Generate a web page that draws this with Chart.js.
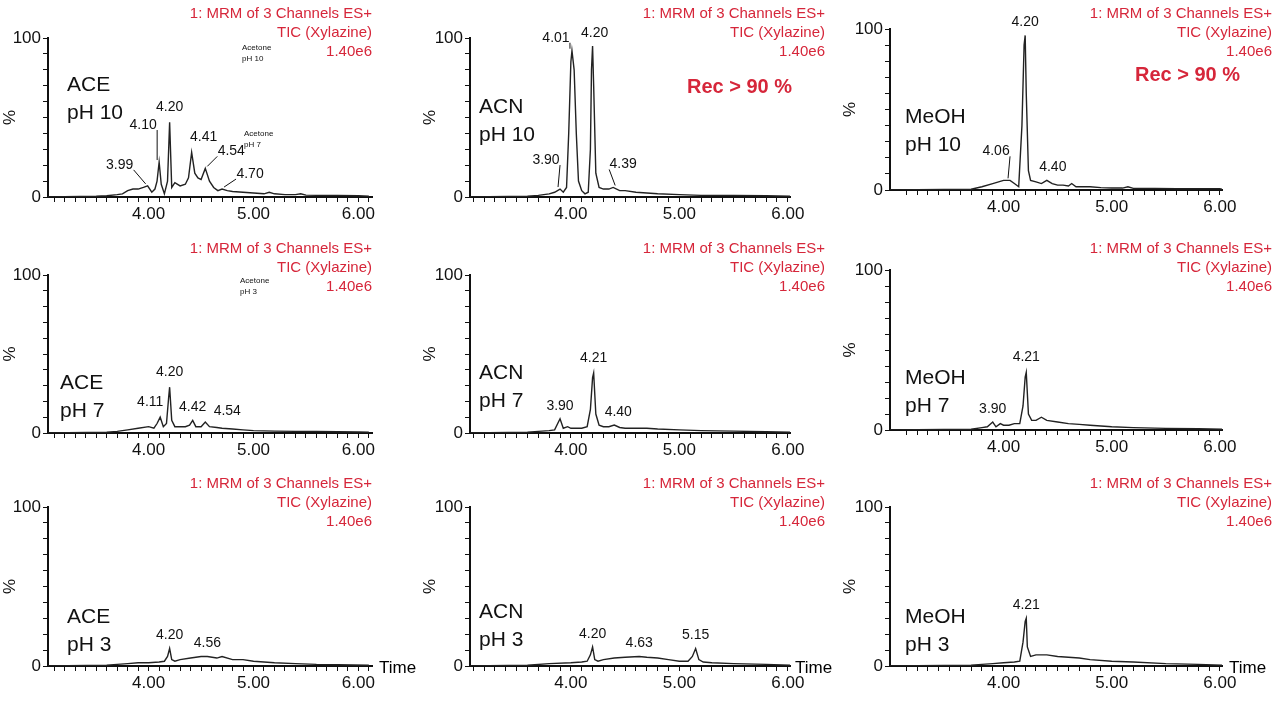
<!DOCTYPE html>
<html><head><meta charset="utf-8">
<script src="https://cdn.jsdelivr.net/npm/chart.js@4/dist/chart.umd.min.js"></script>
<style>
body{margin:0;width:1280px;height:705px;background:#fff;position:relative;overflow:hidden;font-family:"Liberation Sans",Arial,sans-serif}
canvas{position:absolute}
.t{position:absolute;white-space:nowrap;line-height:1}
.h{color:#d6263a;font-size:15px;text-align:right;line-height:19px}
.s{font-size:21px;line-height:28px;color:#111}
.rec{color:#d6263a;font-size:20px;font-weight:bold}
.ac{font-size:8px;line-height:11px;color:#111}
</style></head><body>
<script>
// ---- data ----
const tA10=[3.0,3.5,3.6,3.7,3.75,3.8,3.85,3.9,3.95,3.99,4.03,4.06,4.08,4.10,4.12,4.15,4.18,4.20,4.22,4.25,4.3,4.35,4.38,4.41,4.44,4.47,4.5,4.54,4.58,4.62,4.66,4.70,4.75,4.8,4.9,5.0,5.1,5.15,5.2,5.3,5.4,5.45,5.5,5.6,5.8,6.0,6.1];
const yA10=[0,0.5,0.8,1.5,2,4,5,5,6,7,3,5,10,22,8,2,10,47,6,9,7,8,12,28,15,12,11,18,10,6,4,5,4,3.5,3,2.5,2,3,2,1.5,1.5,2,1.2,1,1,0.8,0.5];
const tN10=[3.05,3.6,3.7,3.8,3.85,3.9,3.93,3.96,3.98,4.0,4.01,4.03,4.05,4.07,4.1,4.13,4.16,4.18,4.19,4.20,4.21,4.23,4.26,4.3,4.35,4.39,4.45,4.5,4.6,4.7,4.8,5.0,5.2,5.5,5.8,6.02];
const yN10=[0,0.5,1,2,3,5,3,6,40,85,92,80,40,10,4,2,3,30,80,95,70,15,6,5,5,6,4,4,3,2.5,2,1.5,1,1,0.8,0.5];
const tM10=[2.95,3.7,3.8,3.9,4.0,4.06,4.1,4.14,4.17,4.19,4.20,4.21,4.23,4.25,4.3,4.35,4.40,4.45,4.5,4.55,4.6,4.63,4.67,4.7,4.8,4.9,5.0,5.1,5.15,5.2,5.4,5.6,5.8,6.0,6.02];
const yM10=[0,0.5,2,4,6,6,4,2,40,90,96,60,12,6,5,4,6,4,3,3,2.5,4,2,2,2,1.5,1.2,1.2,2,1,1,0.8,0.8,0.8,0.5];
const tA7=[3.0,3.6,3.7,3.8,3.9,4.0,4.05,4.08,4.11,4.14,4.17,4.19,4.20,4.22,4.25,4.3,4.35,4.39,4.42,4.45,4.5,4.54,4.58,4.65,4.7,4.8,4.9,5.0,5.2,5.4,5.6,5.8,6.0,6.1];
const yA7=[0,0.5,1,2,3,4,3,6,10,4,6,22,29,8,4,4,4,5,8,4,4,7,4,3.5,3,2.5,2,1.5,1.2,1,1,0.8,0.6,0.5];
const tN7=[3.05,3.6,3.7,3.8,3.85,3.9,3.93,3.97,4.0,4.05,4.1,4.15,4.18,4.20,4.21,4.23,4.26,4.3,4.35,4.40,4.45,4.5,4.6,4.7,4.8,5.0,5.2,5.5,5.8,6.02];
const yN7=[0,0.5,1,1.5,2,9,3,4,3,3,3,4,15,35,38,12,5,4,4,5,3.5,3,3,3,2.5,2,1.5,1.2,0.8,0.5];
const tM7=[2.95,3.7,3.8,3.85,3.9,3.93,3.97,4.0,4.05,4.1,4.15,4.18,4.20,4.21,4.23,4.26,4.3,4.35,4.4,4.5,4.6,4.7,4.8,5.0,5.2,5.5,5.8,6.02];
const yM7=[0,0.5,1.5,2,5,2,4,3,3,4,4,15,33,36,10,6,6,8,6,5,4,3.5,3,2,1.5,1,0.8,0.5];
const tA3=[3.0,3.6,3.7,3.8,3.9,4.0,4.1,4.15,4.18,4.20,4.22,4.25,4.3,4.4,4.5,4.56,4.65,4.7,4.8,4.9,5.0,5.2,5.4,5.6,5.8,6.1];
const yA3=[0,0.5,1,1.5,2,2,2.5,3,6,11,4,3,4,5,6,6,5,6,4,4,3,2,1.5,1,0.8,0.5];
const tN3=[3.05,3.6,3.8,4.0,4.1,4.15,4.18,4.20,4.22,4.25,4.3,4.4,4.5,4.63,4.7,4.8,4.9,5.0,5.08,5.12,5.15,5.18,5.22,5.3,5.5,5.8,6.02];
const yN3=[0,0.5,1.5,2,2.5,3,7,12,4,3,4,5,5.5,6,5.5,5,4,3,3,6,11,4,2.5,2,1.5,1,0.5];
const tM3=[2.95,3.7,3.8,3.9,4.0,4.1,4.15,4.18,4.20,4.21,4.22,4.25,4.3,4.4,4.5,4.6,4.7,4.8,5.0,5.2,5.5,5.8,6.02];
const yM3=[0,0.5,1,1.5,2,2.5,3,15,28,30,12,6,7,7,6,5.5,5,4,3,2.5,1.5,1,0.5];
const xTickLabels=[4,5,6];
const yTickLabels=[0,100];
const pkA10=[['3.99',3.99,7],['4.10',4.10,22],['4.20',4.20,47],['4.41',4.41,28],['4.54',4.54,18],['4.70',4.70,5]];
const pkN10=[['3.90',3.90,5],['4.01',4.01,92],['4.20',4.20,95],['4.39',4.39,6]];
const pkM10=[['4.06',4.06,6],['4.20',4.20,96],['4.40',4.40,6]];
const pkA7=[['4.11',4.11,10],['4.20',4.20,29],['4.42',4.42,8],['4.54',4.54,7]];
const pkN7=[['3.90',3.90,9],['4.21',4.21,38],['4.40',4.40,5]];
const pkM7=[['3.90',3.90,5],['4.21',4.21,36]];
const pkA3=[['4.20',4.20,11],['4.56',4.56,6]];
const pkN3=[['4.20',4.20,12],['4.63',4.63,6],['5.15',5.15,11]];
const pkM3=[['4.21',4.21,30]];

// ---- layout (style) ----
const leader={
 'A10':{'3.99':[-28,-14,1],'4.10':[-16,-30,1],'4.20':[0,-8,0],'4.41':[12,-8,0],'4.54':[26,-10,1],'4.70':[28,-8,1]},
 'N10':{'3.90':[-14,-22,1],'4.01':[-16,-6,1],'4.20':[2,-6,0],'4.39':[10,-16,1]},
 'M10':{'4.06':[-14,-22,1],'4.20':[0,-6,0],'4.40':[6,-6,0]},
 'A7':{'4.11':[-10,-8,0],'4.20':[0,-8,0],'4.42':[0,-6,0],'4.54':[22,-4,0]},
 'N7':{'3.90':[0,-6,0],'4.21':[0,-8,0],'4.40':[4,-6,0]},
 'M7':{'3.90':[0,-6,0],'4.21':[0,-8,0]},
 'A3':{'4.20':[0,-6,0],'4.56':[0,-6,0]},
 'N3':{'4.20':[0,-6,0],'4.63':[0,-6,0],'5.15':[0,-6,0]},
 'M3':{'4.21':[0,-6,0]}
};
const L={xmin:3.04,xmax:6.13},M={xmin:3.07,xmax:6.02},R={xmin:2.95,xmax:6.02};
const panels=[
 {k:'A10',t:tA10,y:yA10,pk:pkA10,cx:0,cy:0,w:420,ax0:48,ax1:372,ay0:38,ay1:197,...L},
 {k:'N10',t:tN10,y:yN10,pk:pkN10,cx:420,cy:0,w:420,ax0:470,ax1:790,ay0:38,ay1:197,...M},
 {k:'M10',t:tM10,y:yM10,pk:pkM10,cx:840,cy:0,w:440,ax0:890,ax1:1222,ay0:29,ay1:190,...R},
 {k:'A7',t:tA7,y:yA7,pk:pkA7,cx:0,cy:235,w:420,ax0:48,ax1:372,ay0:275,ay1:433,...L},
 {k:'N7',t:tN7,y:yN7,pk:pkN7,cx:420,cy:235,w:420,ax0:470,ax1:790,ay0:275,ay1:433,...M},
 {k:'M7',t:tM7,y:yM7,pk:pkM7,cx:840,cy:235,w:440,ax0:890,ax1:1222,ay0:270,ay1:430,...R},
 {k:'A3',t:tA3,y:yA3,pk:pkA3,cx:0,cy:470,w:420,ax0:48,ax1:372,ay0:507,ay1:666,...L},
 {k:'N3',t:tN3,y:yN3,pk:pkN3,cx:420,cy:470,w:420,ax0:470,ax1:790,ay0:507,ay1:666,...M},
 {k:'M3',t:tM3,y:yM3,pk:pkM3,cx:840,cy:470,w:440,ax0:890,ax1:1222,ay0:507,ay1:666,...R}
];
const H=235;
const peakPlugin={id:'pk',afterDatasetsDraw(c){
 const p=c.options.plugins.pk.p, ctx=c.ctx, xs=c.scales.x, ys=c.scales.y;
 ctx.save();ctx.font='14px "Liberation Sans",Arial';ctx.fillStyle='#111';ctx.strokeStyle='#111';ctx.lineWidth=1;
 ctx.textAlign='center';ctx.textBaseline='bottom';
 p.pk.forEach(([txt,t,v])=>{
  const px=xs.getPixelForValue(t), py=ys.getPixelForValue(v);
  const o=leader[p.k][txt]||[0,-6,0];
  const lx=px+o[0], ly=py+o[1];
  ctx.fillText(txt,lx,ly);
  if(o[2]){ctx.beginPath();ctx.moveTo(lx+(o[0]<0?14:-14),ly-2);ctx.lineTo(px+(o[0]<0?-2:2),py-2);ctx.stroke();}
 });
 ctx.restore();}};
panels.forEach(p=>{
 const cv=document.createElement('canvas');
 cv.style.left=p.cx+'px';cv.style.top=p.cy+'px';cv.style.width=p.w+'px';cv.style.height=H+'px';
 cv.width=p.w;cv.height=H;document.body.appendChild(cv);
 new Chart(cv,{type:'line',plugins:[peakPlugin],
  data:{datasets:[{data:p.t.map((t,i)=>({x:t,y:p.y[i]})),borderColor:'#222',borderWidth:1.4,pointRadius:0,tension:0}]},
  options:{responsive:false,animation:false,devicePixelRatio:1,
   layout:{padding:{left:0,right:p.cx+p.w-p.ax1,top:p.ay0-p.cy,bottom:0}},
   plugins:{legend:{display:false},tooltip:{enabled:false},pk:{p}},
   scales:{
    x:{type:'linear',min:p.xmin,max:p.xmax,afterFit:s=>{s.height=p.cy+H-p.ay1;},
     afterBuildTicks:s=>{s.ticks=[];for(let i=31;i<=61;i++){const v=i/10;if(v>=p.xmin-1e-6&&v<=p.xmax+1e-6)s.ticks.push({value:v});}},
     grid:{drawOnChartArea:false,color:'#111',tickLength:5,tickColor:'#111'},border:{color:'#111',width:2},
     ticks:{autoSkip:false,maxRotation:0,color:'#111',font:{size:17,family:'"Liberation Sans",Arial'},padding:2,
      callback:v=>xTickLabels.some(k=>Math.abs(v-k)<1e-6)?v.toFixed(2):''}},
    y:{min:0,max:100,afterFit:s=>{s.width=p.ax0-p.cx;},
     grid:{drawOnChartArea:false,color:'#111',tickLength:5,tickColor:'#111'},border:{color:'#111',width:2},
     title:{display:true,text:'%',color:'#111',font:{size:17,family:'"Liberation Sans",Arial'},padding:0},
     ticks:{stepSize:10,autoSkip:false,color:'#111',font:{size:17,family:'"Liberation Sans",Arial'},padding:2,
      callback:v=>yTickLabels.includes(v)?String(v):''}}
   }}});
});
// ---- static text ----
const texts=[];
[[372,0],[825,0],[1272,0],[372,235],[825,235],[1272,235],[372,470],[825,470],[1272,470]].forEach(([r,y])=>
 texts.push(['h',r,y+3,'1: MRM of 3 Channels ES+<br>TIC (Xylazine)<br>1.40e6']));
const sample=[[67,70,'ACE<br>pH 10'],[479,92,'ACN<br>pH 10'],[905,102,'MeOH<br>pH 10'],
 [60,368,'ACE<br>pH 7'],[479,358,'ACN<br>pH 7'],[905,363,'MeOH<br>pH 7'],
 [67,602,'ACE<br>pH 3'],[479,597,'ACN<br>pH 3'],[905,602,'MeOH<br>pH 3']];
let html='';
texts.forEach(([c,r,y,s])=>{html+=`<div class="t ${c}" style="right:${1280-r}px;top:${y}px">${s}</div>`;});
sample.forEach(([x,y,s])=>{html+=`<div class="t s" style="left:${x}px;top:${y}px">${s}</div>`;});
html+=`<div class="t rec" style="left:687px;top:76px">Rec &gt; 90 %</div><div class="t rec" style="left:1135px;top:64px">Rec &gt; 90 %</div>`;
html+=`<div class="t ac" style="left:242px;top:42px">Acetone<br>pH 10</div><div class="t ac" style="left:244px;top:128px">Acetone<br>pH 7</div><div class="t ac" style="left:240px;top:275px">Acetone<br>pH 3</div>`;
html+=`<div class="t" style="left:379px;top:659px;font-size:17px">Time</div><div class="t" style="left:795px;top:659px;font-size:17px">Time</div><div class="t" style="left:1229px;top:659px;font-size:17px">Time</div>`;
document.body.insertAdjacentHTML('beforeend',html);
</script>
</body></html>
